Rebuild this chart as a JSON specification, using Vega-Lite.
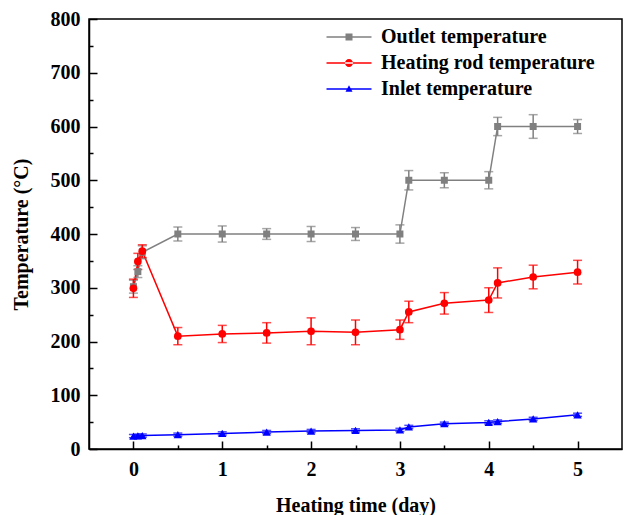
{
  "$schema": "https://vega.github.io/schema/vega-lite/v6.json",
  "autosize": "none",
  "width": 533,
  "height": 430,
  "padding": {"left": 89, "top": 19, "right": 3, "bottom": 66},
  "background": "white",
  "config": {
    "font": "Liberation Serif",
    "view": {"stroke": "black", "strokeWidth": 1.5},
    "axis": {"domainColor": "black", "domainWidth": 1.5, "tickColor": "black", "tickWidth": 1.5, "grid": false}
  },
  "data": {
    "values": [
      {"series": "Outlet temperature", "day": 0, "temp": 302, "err": 12},
      {"series": "Outlet temperature", "day": 0.05, "temp": 330, "err": 11},
      {"series": "Outlet temperature", "day": 0.1, "temp": 366, "err": 12},
      {"series": "Outlet temperature", "day": 0.5, "temp": 400, "err": 13},
      {"series": "Outlet temperature", "day": 1, "temp": 400, "err": 15},
      {"series": "Outlet temperature", "day": 1.5, "temp": 400, "err": 10},
      {"series": "Outlet temperature", "day": 2, "temp": 400, "err": 14},
      {"series": "Outlet temperature", "day": 2.5, "temp": 400, "err": 12},
      {"series": "Outlet temperature", "day": 3, "temp": 400, "err": 17},
      {"series": "Outlet temperature", "day": 3.1, "temp": 500, "err": 18},
      {"series": "Outlet temperature", "day": 3.5, "temp": 500, "err": 14},
      {"series": "Outlet temperature", "day": 4, "temp": 500, "err": 16},
      {"series": "Outlet temperature", "day": 4.1, "temp": 600, "err": 17},
      {"series": "Outlet temperature", "day": 4.5, "temp": 600, "err": 22},
      {"series": "Outlet temperature", "day": 5, "temp": 600, "err": 13},
      {"series": "Heating rod temperature", "day": 0, "temp": 299, "err": 17},
      {"series": "Heating rod temperature", "day": 0.05, "temp": 349, "err": 15},
      {"series": "Heating rod temperature", "day": 0.1, "temp": 368, "err": 12},
      {"series": "Heating rod temperature", "day": 0.5, "temp": 210, "err": 16},
      {"series": "Heating rod temperature", "day": 1, "temp": 214, "err": 16},
      {"series": "Heating rod temperature", "day": 1.5, "temp": 216, "err": 19},
      {"series": "Heating rod temperature", "day": 2, "temp": 219, "err": 25},
      {"series": "Heating rod temperature", "day": 2.5, "temp": 217, "err": 23},
      {"series": "Heating rod temperature", "day": 3, "temp": 222, "err": 18},
      {"series": "Heating rod temperature", "day": 3.1, "temp": 255, "err": 20},
      {"series": "Heating rod temperature", "day": 3.5, "temp": 271, "err": 20},
      {"series": "Heating rod temperature", "day": 4, "temp": 277, "err": 23},
      {"series": "Heating rod temperature", "day": 4.1, "temp": 309, "err": 28},
      {"series": "Heating rod temperature", "day": 4.5, "temp": 320, "err": 22},
      {"series": "Heating rod temperature", "day": 5, "temp": 329, "err": 22},
      {"series": "Inlet temperature", "day": 0, "temp": 24, "err": 3},
      {"series": "Inlet temperature", "day": 0.05, "temp": 24.5, "err": 3},
      {"series": "Inlet temperature", "day": 0.1, "temp": 25, "err": 3},
      {"series": "Inlet temperature", "day": 0.5, "temp": 26.6, "err": 3},
      {"series": "Inlet temperature", "day": 1, "temp": 29, "err": 3},
      {"series": "Inlet temperature", "day": 1.5, "temp": 31.5, "err": 3},
      {"series": "Inlet temperature", "day": 2, "temp": 33.4, "err": 3},
      {"series": "Inlet temperature", "day": 2.5, "temp": 34.6, "err": 3},
      {"series": "Inlet temperature", "day": 3, "temp": 35.5, "err": 3},
      {"series": "Inlet temperature", "day": 3.1, "temp": 41, "err": 3},
      {"series": "Inlet temperature", "day": 3.5, "temp": 47, "err": 3},
      {"series": "Inlet temperature", "day": 4, "temp": 49.5, "err": 3},
      {"series": "Inlet temperature", "day": 4.1, "temp": 51, "err": 3},
      {"series": "Inlet temperature", "day": 4.5, "temp": 56, "err": 3},
      {"series": "Inlet temperature", "day": 5, "temp": 63.6, "err": 3}
    ]
  },
  "resolve": {"axis": {"x": "independent", "y": "independent"}, "legend": {"color": "independent"}},
  "layer": [
    {
      "mark": {"type": "line", "strokeWidth": 1.5},
      "encoding": {
        "x": {"field": "day", "type": "quantitative", "scale": {"domain": [-0.5, 5.5], "nice": false, "zero": false},
              "axis": {"orient": "bottom", "values": [0, 1, 2, 3, 4, 5], "tickSize": -8, "labelPadding": 18, "title": "Heating time (day)", "titlePadding": 16, "labelFlush": false,
                       "labelFont": "Liberation Serif", "labelFontWeight": "bold", "labelFontSize": 20, "labelColor": "black",
                       "titleFont": "Liberation Serif", "titleFontWeight": "bold", "titleFontSize": 20, "titleColor": "black"}},
        "y": {"field": "temp", "type": "quantitative", "scale": {"domain": [0, 800], "nice": false},
              "axis": {"orient": "left", "values": [0, 100, 200, 300, 400, 500, 600, 700, 800], "tickSize": -8, "labelPadding": 17, "title": "Temperature (°C)", "titlePadding": 19, "labelFlush": false,
                       "labelFont": "Liberation Serif", "labelFontWeight": "bold", "labelFontSize": 20, "labelColor": "black",
                       "titleFont": "Liberation Serif", "titleFontWeight": "bold", "titleFontSize": 20, "titleColor": "black"}},
        "color": {"field": "series", "type": "nominal",
                  "scale": {"domain": ["Outlet temperature", "Heating rod temperature", "Inlet temperature"], "range": ["#808080", "#ff0000", "#0000ff"]},
                  "legend": {
                    "orient": "none", "legendX": 250, "legendY": 8, "title": null,
                    "symbolSize": 100, "labelOffset": 22,
                    "labelFont": "Liberation Serif", "labelFontWeight": "bold", "labelFontSize": 20, "labelColor": "black", "labelLimit": 400,
                    "rowPadding": 6, "padding": 0,
                    "encode": {"symbols": {"update": {
                      "shape": {"signal": "datum.value === 'Outlet temperature' ? 'M-4.5,-0.15H4.5V0.15H-4.5ZM-0.7,-0.7H0.7V0.7H-0.7Z' : datum.value === 'Heating rod temperature' ? 'M-4.5,-0.15H4.5V0.15H-4.5ZM-0.8,0A0.8 0.8 0 1 0 0.8,0A0.8 0.8 0 1 0 -0.8,0Z' : 'M-4.5,-0.15H4.5V0.15H-4.5ZM0,-0.75L0.7,0.55H-0.7Z'"},
                      "fill": {"scale": "color", "field": "value"},
                      "stroke": {"value": "transparent"},
                      "strokeWidth": {"value": 0},
                      "opacity": {"value": 1}
                    }}}
                  }},
        "order": {"field": "day"}
      }
    },
    {
      "mark": {"type": "errorbar", "ticks": {"size": 9, "thickness": 1.5}, "rule": {"strokeWidth": 1.5}},
      "encoding": {
        "x": {"field": "day", "type": "quantitative", "axis": null},
        "y": {"field": "temp", "type": "quantitative", "axis": null},
        "yError": {"field": "err"},
        "color": {"field": "series", "type": "nominal", "legend": null}
      }
    },
    {
      "mark": {"type": "point", "filled": true, "opacity": 1, "strokeWidth": 0},
      "encoding": {
        "x": {"field": "day", "type": "quantitative",
              "axis": {"orient": "bottom", "values": [0.5, 1.5, 2.5, 3.5, 4.5], "tickSize": -4, "labels": false, "title": null, "domain": false}},
        "y": {"field": "temp", "type": "quantitative",
              "axis": {"orient": "left", "values": [50, 150, 250, 350, 450, 550, 650, 750], "tickSize": -4, "labels": false, "title": null, "domain": false}},
        "color": {"field": "series", "type": "nominal", "legend": null},
        "shape": {"field": "series", "type": "nominal", "legend": null,
                  "scale": {"domain": ["Outlet temperature", "Heating rod temperature", "Inlet temperature"], "range": ["square", "circle", "triangle-up"]}},
        "size": {"field": "series", "type": "nominal", "legend": null,
                 "scale": {"domain": ["Outlet temperature", "Heating rod temperature", "Inlet temperature"], "range": [49, 70, 40]}}
      }
    }
  ]
}
